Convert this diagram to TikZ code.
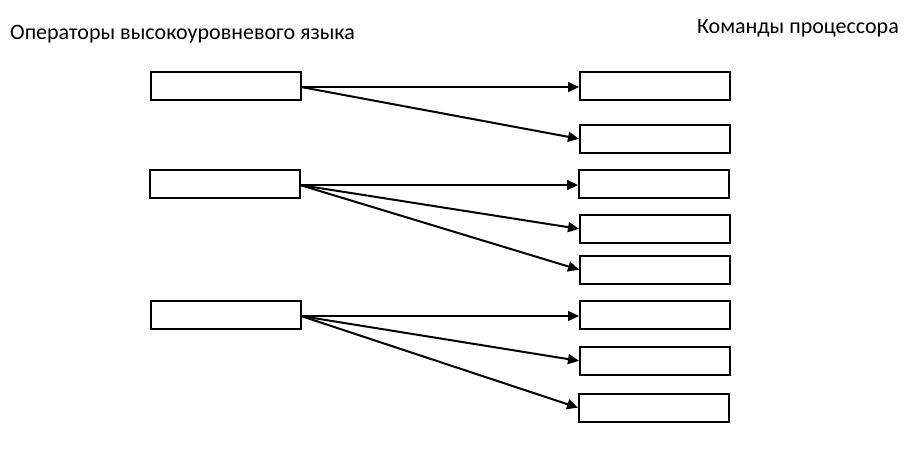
\documentclass[tikz,border=0pt]{standalone}
\usepackage{fontspec}
\setmainfont{Carlito}
\usetikzlibrary{arrows.meta}
\begin{document}
\begin{tikzpicture}[x=1pt,y=-1pt,
  box/.style={draw=black,line width=2pt,minimum width=150pt,minimum height=28pt,inner sep=0pt,outer sep=0pt,fill=white},
  conn/.style={line width=2pt,-{Triangle[length=11pt,width=10pt]},shorten >=1pt},
  lbl/.style={font=\fontsize{22}{26}\selectfont,inner sep=0pt}]
\useasboundingbox[fill=white] (0,0) rectangle (910,456);
\node[lbl,anchor=base west] (t1) at (10,39) {Операторы высокоуровневого языка};
\node[lbl,anchor=base east] (t2) at (899,33) {Команды процессора};
% left boxes
\node[box] (L1) at (226,86) {};
\node[box] (L2) at (225,184) {};
\node[box] (L3) at (226,315) {};
% right boxes
\node[box] (R1) at (655,86) {};
\node[box] (R2) at (655,139) {};
\node[box] (R3) at (654,184) {};
\node[box] (R4) at (655,229) {};
\node[box] (R5) at (655,270) {};
\node[box] (R6) at (655,315) {};
\node[box] (R7) at (655,361) {};
\node[box] (R8) at (654,408) {};
% connectors
\draw[conn] (L1.east) ++(0,1) coordinate (s1) -- (R1.west |- s1);
\draw[conn] (s1) -- (R2.west);
\draw[conn] (L2.east) ++(0,1) coordinate (s2) -- (R3.west |- s2);
\draw[conn] (s2) -- (R4.west);
\draw[conn] (s2) -- (R5.west);
\draw[conn] (L3.east) ++(0,1) coordinate (s3) -- (R6.west |- s3);
\draw[conn] (s3) -- (R7.west);
\draw[conn] (s3) -- (R8.west);
\end{tikzpicture}
\end{document}
